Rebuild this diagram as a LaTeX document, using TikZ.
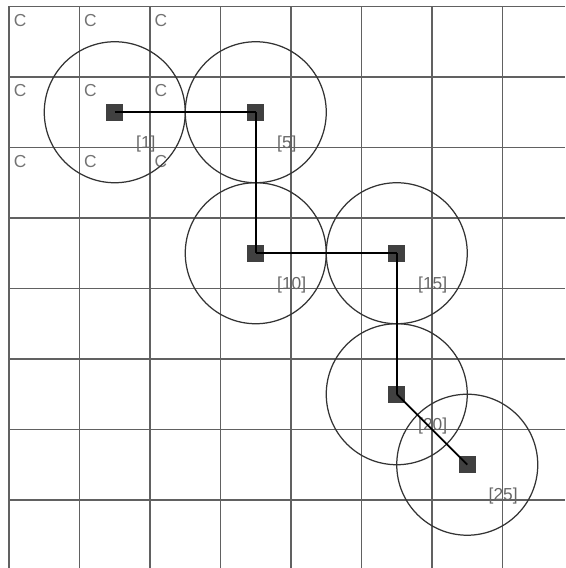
\documentclass[tikz,border=0pt]{standalone}
\usepackage{fontspec}
\setmainfont{Liberation Sans}
\usepackage{tikz}
\usetikzlibrary{positioning}

\begin{document}
\begin{tikzpicture}[
    cell/.style={draw=black!62, line width=0.65pt},
    cmark/.style={anchor=north west, inner sep=0pt, text=black!55, font=\fontsize{7}{8}\selectfont},
    sensor/.style={rectangle, fill=black!75, minimum size=0.24cm, inner sep=0pt},
    tag/.style={inner sep=0pt, text=black!60, font=\fontsize{7}{8}\selectfont},
    reach/.style={draw=black!80, line width=0.5pt},
    hop/.style={draw=black, line width=0.7pt}
]
\useasboundingbox (-0.128,0.092) rectangle (7.887,-7.965);

% 1. Grid of cells
\draw[cell] (0,0) grid (7.887,-7.965);

% 2. Cell marks in the upper left corner
\foreach \i in {0,1,2}
  \foreach \j in {0,1,2}
    \node[cmark] (c\i\j) at (\i+0.06,-\j-0.1) {C};

% 3. Sensors (at the centres of their cells)
\node[sensor] (s1) at (1.5,-1.5) {};
\node[sensor] (s5) at (3.5,-1.5) {};
\node[sensor] (s10) at (3.5,-3.5) {};
\node[sensor] (s15) at (5.5,-3.5) {};
\node[sensor] (s20) at (5.5,-5.5) {};
\node[sensor] (s25) at (6.5,-6.5) {};

% 4. Labels below right of each sensor
\node[tag, below right=0.2cm and 0.17cm of s1] (t1) {[1]};
\node[tag, below right=0.2cm and 0.17cm of s5] (t5) {[5]};
\node[tag, below right=0.2cm and 0.17cm of s10] (t10) {[10]};
\node[tag, below right=0.2cm and 0.17cm of s15] (t15) {[15]};
\node[tag, below right=0.2cm and 0.17cm of s20] (t20) {[20]};
\node[tag, below right=0.2cm and 0.17cm of s25] (t25) {[25]};

% 5. Reach of each sensor
\foreach \s in {s1,s5,s10,s15,s20,s25}
  \draw[reach] (\s.center) circle[radius=1];

% 6. Path between sensors
\draw[hop] (s1.center) -- (s5.center);
\draw[hop] (s5.center) -- (s10.center);
\draw[hop] (s10.center) -- (s15.center);
\draw[hop] (s15.center) -- (s20.center);
\draw[hop] (s20.center) -- (s25.center);

\end{tikzpicture}
\end{document}
